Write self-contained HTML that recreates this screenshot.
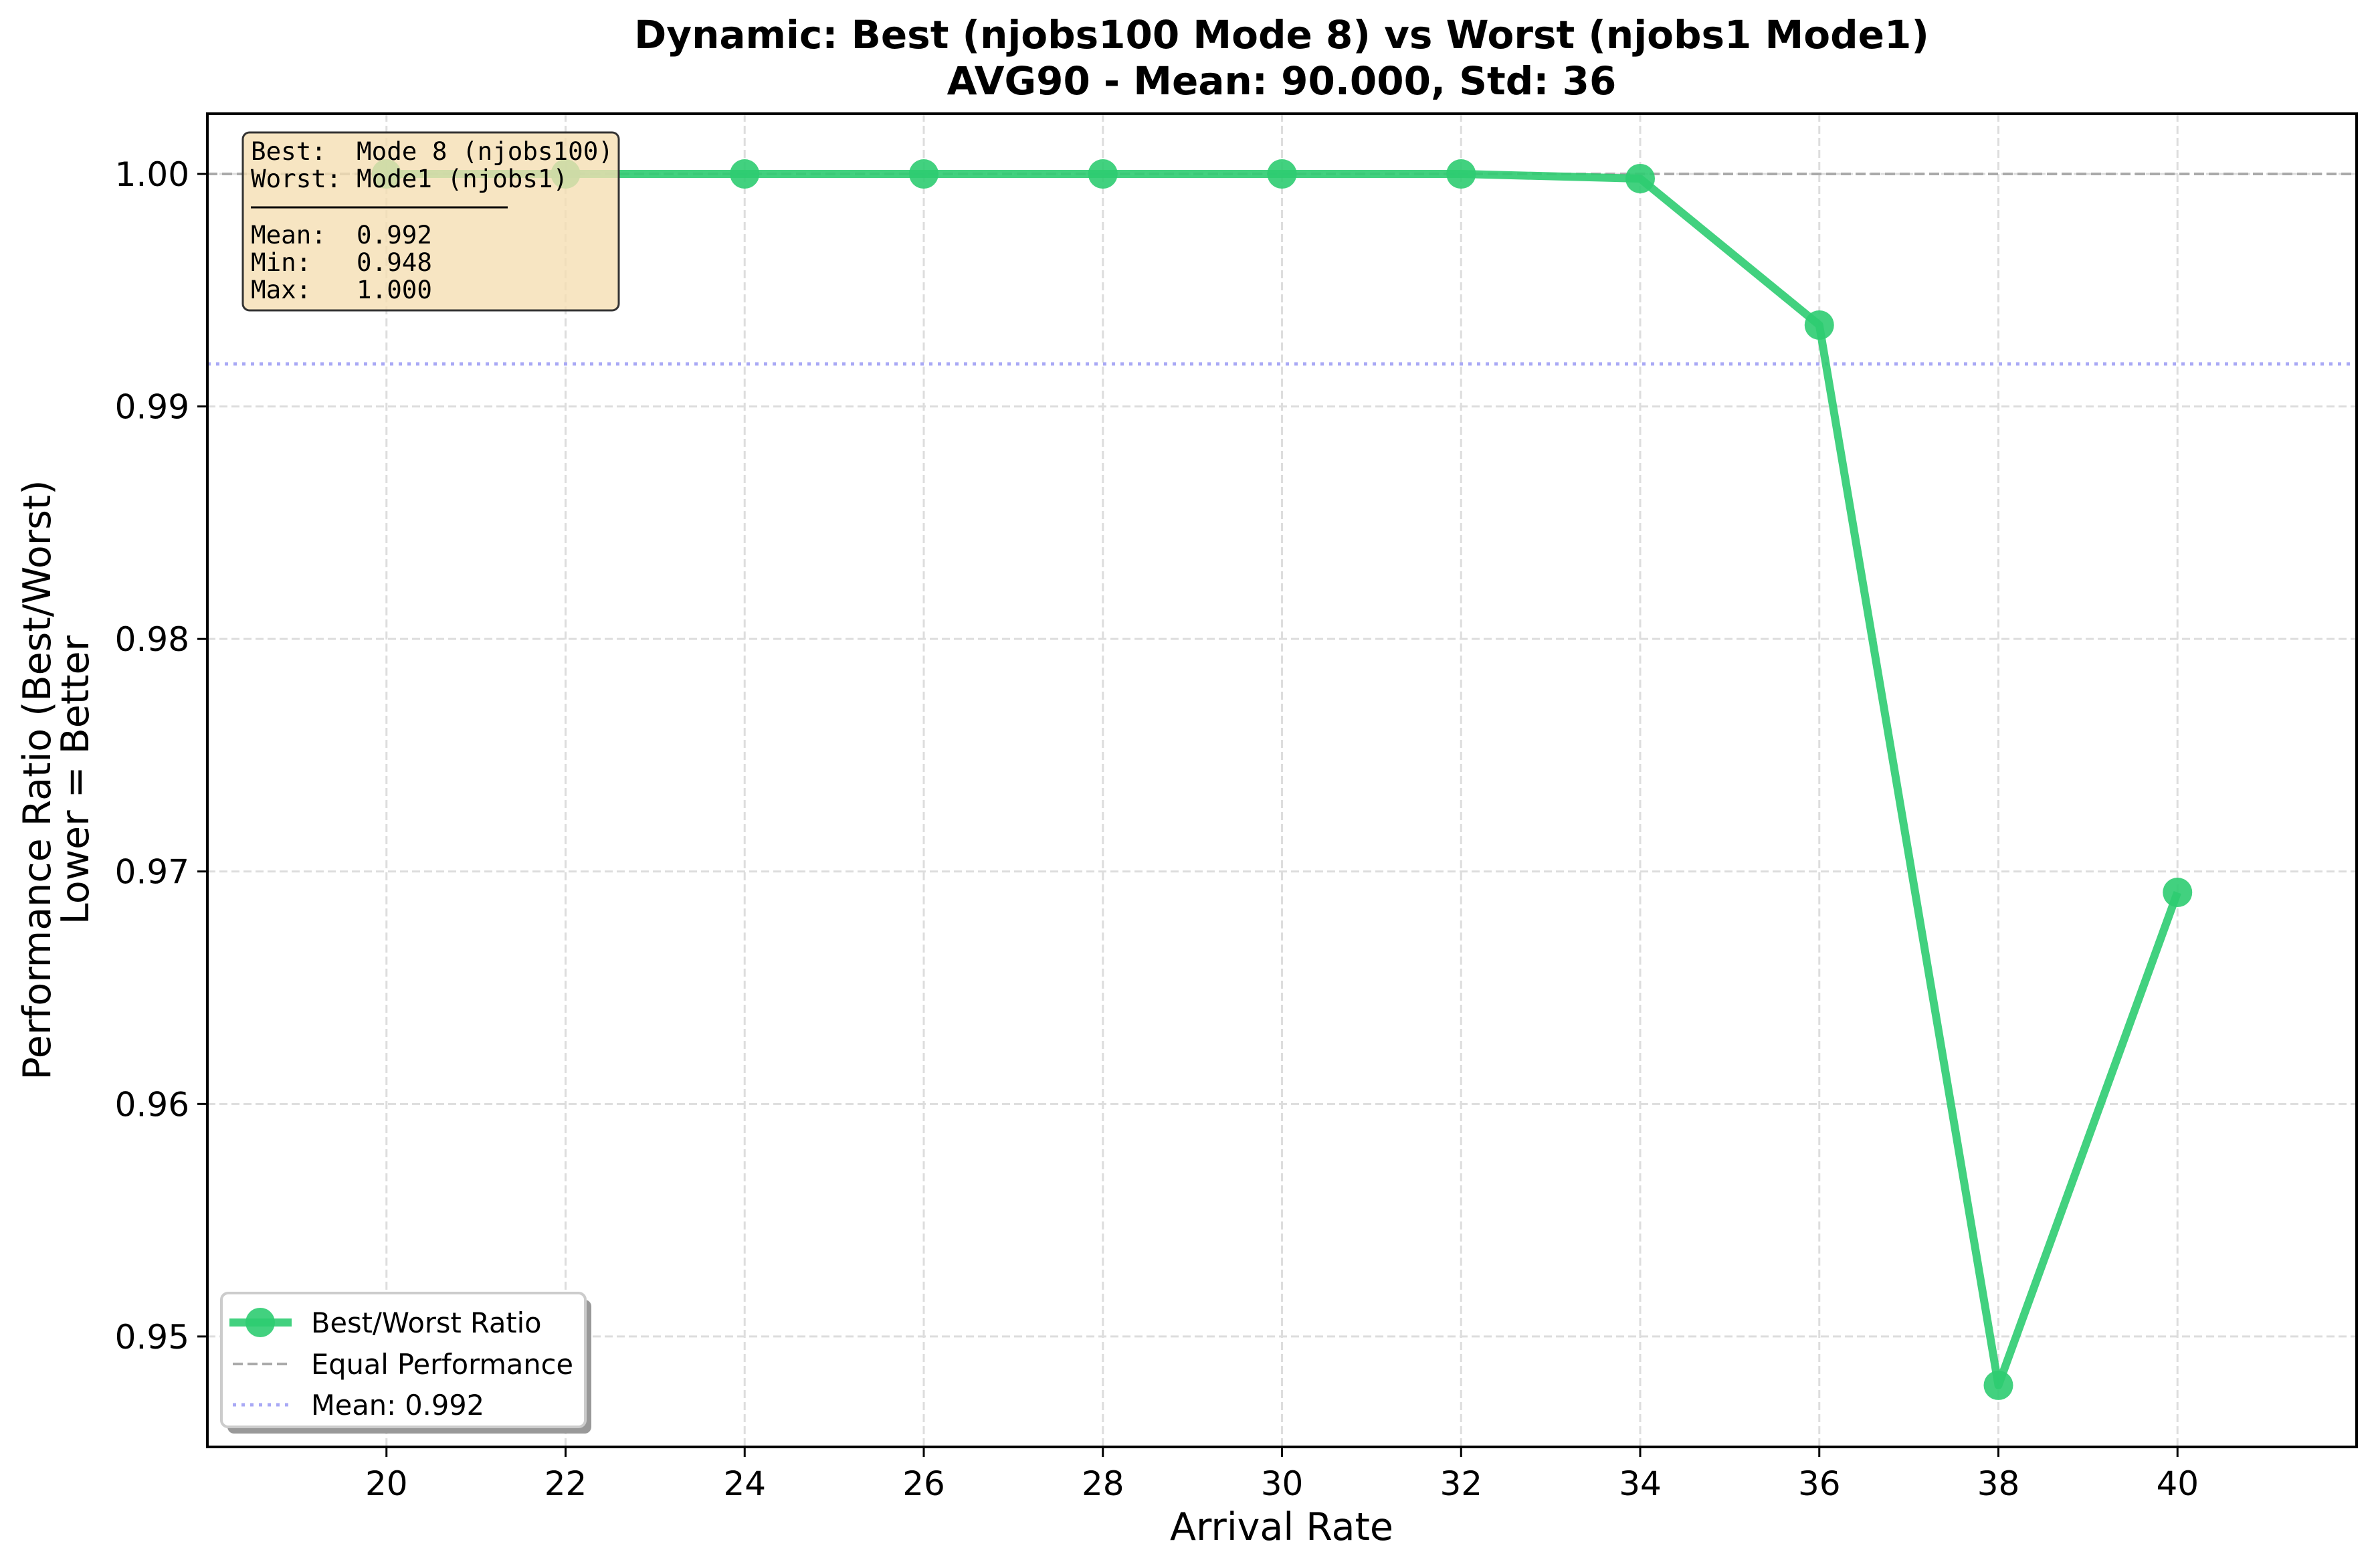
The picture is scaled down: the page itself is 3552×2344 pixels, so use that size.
<!DOCTYPE html>
<html><head><meta charset="utf-8"><style>
html,body{margin:0;padding:0;background:#fff}
svg{display:block}
text{font-family:"DejaVu Sans","Liberation Sans",sans-serif}
.mono{font-family:"DejaVu Sans Mono","Liberation Mono",monospace;white-space:pre}
</style></head><body>
<svg id="chart" width="3552" height="2344" viewBox="0 0 3552 2344" xmlns="http://www.w3.org/2000/svg">
<rect width="3552" height="2344" fill="#fff"/>
<g id="grid"></g>
<g id="refs"></g>
<g id="series"></g>
<rect x="310" y="170" width="3213" height="1993" fill="none" stroke="#000" stroke-width="4"/>
<g id="xticks"></g>
<g id="yticks"></g>
<text x="1916" y="72" font-size="58" font-weight="bold" text-anchor="middle">Dynamic: Best (njobs100 Mode 8) vs Worst (njobs1 Mode1)</text>
<text x="1916" y="141" font-size="58" font-weight="bold" text-anchor="middle">AVG90 - Mean: 90.000, Std: 36</text>
<text x="1916" y="2302" font-size="57" text-anchor="middle">Arrival Rate</text>
<g transform="translate(0,1166) rotate(-90)">
<text x="0" y="75" font-size="57" text-anchor="middle">Performance Ratio (Best/Worst)</text>
<text x="0" y="132" font-size="57" text-anchor="middle">Lower = Better</text>
</g>
<g>
<rect x="363" y="198" width="562" height="266" rx="10" fill="#f5deb3" fill-opacity="0.8" stroke="#333" stroke-width="3"/>
<text class="mono" x="375" y="239" font-size="37.5" xml:space="preserve">Best:  Mode 8 (njobs100)</text>
<text class="mono" x="375" y="280" font-size="37.5" xml:space="preserve">Worst: Mode1 (njobs1)</text>
<line x1="375" y1="310" x2="759" y2="310" stroke="#000" stroke-width="3"/>
<text class="mono" x="375" y="364" font-size="37.5" xml:space="preserve">Mean:  0.992</text>
<text class="mono" x="375" y="405" font-size="37.5" xml:space="preserve">Min:   0.948</text>
<text class="mono" x="375" y="446" font-size="37.5" xml:space="preserve">Max:   1.000</text>
</g>
<g>
<rect x="340" y="1943" width="544" height="200" rx="10" fill="#999"/>
<rect x="331" y="1933" width="544" height="200" rx="10" fill="#fff" stroke="#ccc" stroke-width="4"/>
<line x1="343" y1="1977" x2="436" y2="1977" stroke="#2ecc71" stroke-width="12" stroke-opacity="0.9"/>
<circle cx="389" cy="1977" r="22" fill="#2ecc71" fill-opacity="0.9"/>
<text x="465" y="1992" font-size="41.5">Best/Worst Ratio</text>
<line x1="348" y1="2039" x2="432" y2="2039" stroke="#aaa" stroke-width="4" stroke-dasharray="15 7"/>
<text x="465" y="2054" font-size="41.5">Equal Performance</text>
<line x1="348" y1="2100" x2="432" y2="2100" stroke="#a9a9f5" stroke-width="5" stroke-dasharray="5 8"/>
<text x="465" y="2115" font-size="41.5">Mean: 0.992</text>
</g>
</svg>
<script>
const categories = [20, 22, 24, 26, 28, 30, 32, 34, 36, 38, 40];
const ratioValues = [1.0, 1.0, 1.0, 1.0, 1.0, 1.0, 1.0, 0.9998, 0.9935, 0.9479, 0.9691];
const meanValue = 0.99183;
const equalValue = 1.0;
const xTickLabels = ["20","22","24","26","28","30","32","34","36","38","40"];
const yTickValues = [0.95, 0.96, 0.97, 0.98, 0.99, 1.00];
const yTickLabels = ["0.95","0.96","0.97","0.98","0.99","1.00"];

const NS = "http://www.w3.org/2000/svg";
const L = 310, R = 3523, T = 170, B = 2163;
const X0 = 18, X1 = 42, Y0 = 0.94525, Y1 = 1.00259;
function sx(v){ return L + (v - X0) / (X1 - X0) * (R - L); }
function sy(v){ return B - (v - Y0) / (Y1 - Y0) * (B - T); }
function mk(tag, attrs, parent){ const e = document.createElementNS(NS, tag); for (const k in attrs) e.setAttribute(k, attrs[k]); parent.appendChild(e); return e; }

const grid = document.getElementById('grid');
const xt = document.getElementById('xticks');
const yt = document.getElementById('yticks');
categories.forEach((c, i) => {
  const x = sx(c);
  const g = mk('line', {x1:x, x2:x, y1:T, y2:B, stroke:'#ddd', 'stroke-width':3, 'stroke-dasharray':'12 6'}, grid);
  
  
  const t = mk('line', {x1:x, x2:x, y1:B, y2:B+15, stroke:'#000', 'stroke-width':3}, xt);
  
  
  const lb = mk('text', {x:x, y:B+72, 'font-size':50, 'text-anchor':'middle'}, xt);
  lb.textContent = xTickLabels[i];
  
  
});
yTickValues.forEach((v, i) => {
  const y = sy(v);
  const g = mk('line', {x1:L, x2:R, y1:y, y2:y, stroke:'#ddd', 'stroke-width':3, 'stroke-dasharray':'12 6'}, grid);
  
  
  const t = mk('line', {x1:L-15, x2:L, y1:y, y2:y, stroke:'#000', 'stroke-width':3}, yt);
  
  
  const lb = mk('text', {x:L-27, y:y+18, 'font-size':50, 'text-anchor':'end'}, yt);
  lb.textContent = yTickLabels[i];
  
  
});
const refs = document.getElementById('refs');
const eq = mk('line', {x1:L, x2:R, y1:sy(equalValue), y2:sy(equalValue), stroke:'#aaa', 'stroke-width':4, 'stroke-dasharray':'15 7'}, refs);


const mn = mk('line', {x1:L, x2:R, y1:sy(meanValue), y2:sy(meanValue), stroke:'#a9a9f5', 'stroke-width':5, 'stroke-dasharray':'5 8'}, refs);



const series = document.getElementById('series');
const pts = categories.map((c, i) => sx(c) + ',' + sy(ratioValues[i])).join(' ');
const pl = mk('polyline', {points:pts, fill:'none', stroke:'#2ecc71', 'stroke-width':12, 'stroke-opacity':0.9, 'stroke-linejoin':'round'}, series);


categories.forEach((c, i) => {
  const p = mk('circle', {cx:sx(c), cy:sy(ratioValues[i]), r:22, fill:'#2ecc71', 'fill-opacity':0.9}, series);
  
  
});
</script>
</body></html>
